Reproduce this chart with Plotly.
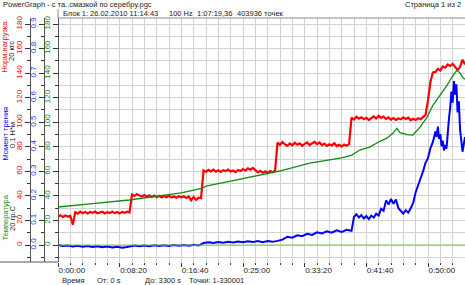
import plotly.graph_objects as go

# ---------------- data ----------------
red_t = list(range(0, 3301, 20))
red_v = [23.0, 24.2, 22.8, 24.0, 23.2, 23.8,
         16.5,
         26.8, 25.6, 27.2, 26.0, 27.0, 25.8, 26.9, 26.2, 27.3, 25.9, 26.6, 27.1, 25.7, 26.8, 26.1, 27.2, 26.0,
         26.9, 25.8, 27.0, 26.3, 27.1, 26.4,
         41.2, 40.0, 41.5, 40.3, 39.6, 40.8, 39.4, 40.5, 39.2, 40.4, 39.0, 40.1, 38.8, 39.9, 38.9, 40.2, 38.7,
         39.6, 38.5, 39.8, 38.9, 39.7, 38.4, 39.5, 36.5, 39.2, 36.8, 38.6, 38.2,
         60.8, 59.6, 61.2, 60.0, 61.5, 59.8, 60.9, 59.5, 61.0, 60.2, 61.4, 59.9, 60.7, 59.4, 61.1, 60.3, 61.8,
         60.6, 62.5, 61.4, 62.8, 61.0, 59.2, 60.4, 59.0, 60.1, 58.8, 60.2, 59.3, 60.5,
         83.5, 81.6, 83.8, 82.0, 80.9, 82.7, 81.2, 83.4, 81.8, 82.9, 80.8, 82.4, 83.6, 81.5, 82.8, 84.0, 82.2,
         83.5, 81.4, 82.6, 80.7, 82.0, 81.1, 82.8, 80.6, 81.7, 80.2, 81.9, 80.8, 82.1,
         103.8, 102.2, 104.5, 102.9, 104.1, 102.5, 103.6, 101.8, 103.3, 104.8, 103.0, 105.2, 103.5, 104.6,
         102.7, 103.9, 102.1, 103.4, 101.9, 103.1, 102.4, 104.0, 102.6, 103.7, 101.6, 102.8, 101.9, 103.2,
         102.5, 104.0,
         106.0, 118.0, 133.0, 140.5,
         141.0, 143.5, 142.2, 145.5, 144.5, 147.0, 145.8, 147.5, 144.5, 142.5, 145.0, 151.0, 147.0]

blue_t = [0, 40, 80, 120, 160, 200, 240, 280, 320, 360, 400, 440, 480, 520, 560, 590, 620, 660, 700, 740,
          780, 820, 860, 900, 940, 980, 1020, 1060, 1100, 1140, 1180, 1220, 1260, 1300, 1340, 1380, 1420,
          1460, 1500, 1540, 1580, 1620, 1660, 1700, 1740, 1780, 1820, 1860, 1900, 1940, 1980, 2020, 2060,
          2100, 2140, 2180, 2220, 2260, 2300, 2340, 2380, 2400, 2420, 2440, 2460, 2480, 2500, 2520, 2540,
          2560, 2580, 2600, 2620, 2640, 2660, 2680, 2700, 2720, 2740, 2760, 2780, 2800, 2820, 2840, 2860,
          2880, 2900, 2920, 2940, 2960, 2980, 3000, 3020, 3040, 3060, 3070, 3080, 3090, 3100, 3110, 3120,
          3130, 3140, 3150, 3160, 3170, 3180, 3190, 3200, 3210, 3220, 3230, 3240, 3250, 3260, 3270, 3280,
          3290, 3300]
blue_v = [0.000, -0.004, -0.002, -0.006, -0.003, -0.007, -0.004, -0.008, -0.005, -0.009, -0.006, -0.010,
          -0.007, -0.011, -0.008, -0.004, -0.002, -0.005, -0.002, -0.005, -0.001, -0.004, -0.001, -0.004,
          0.000, -0.003, 0.000, -0.003, 0.001, -0.002, 0.008, 0.011, 0.008, 0.012, 0.009, 0.013, 0.010,
          0.014, 0.011, 0.015, 0.012, 0.016, 0.012, 0.016, 0.013, 0.017, 0.022, 0.034, 0.030, 0.040, 0.036,
          0.046, 0.041, 0.052, 0.047, 0.056, 0.050, 0.060, 0.053, 0.062, 0.058, 0.115, 0.125, 0.112, 0.122,
          0.108, 0.118, 0.106, 0.120, 0.112, 0.128, 0.120, 0.148, 0.140, 0.182, 0.165, 0.188, 0.168, 0.185,
          0.150, 0.138, 0.128, 0.142, 0.132, 0.150, 0.172, 0.215, 0.240, 0.272, 0.300, 0.335, 0.355, 0.395,
          0.420, 0.462, 0.440, 0.482, 0.432, 0.452, 0.402, 0.425, 0.385, 0.408, 0.392, 0.470, 0.515, 0.560,
          0.625, 0.580, 0.668, 0.612, 0.655, 0.540, 0.585, 0.470, 0.420, 0.380, 0.410, 0.440]

green_t = [0, 120, 300, 577, 800, 1000, 1171, 1200, 1400, 1634, 1797, 2041, 2200, 2300, 2382, 2447, 2528,
           2610, 2667, 2715, 2748, 2772, 2829, 2878, 2935, 2992, 3041, 3098, 3154, 3195, 3236, 3260, 3285,
           3300]
green_v = [31.0, 32.0, 34.0, 36.7, 39.5, 42.5, 46.4, 48.0, 52.0, 57.0, 60.3, 66.8, 69.5, 71.0, 73.3, 77.4,
           79.8, 84.5, 87.0, 91.0, 95.0, 91.5, 90.0, 89.6, 96.0, 104.0, 114.0, 122.0, 130.0, 137.0, 142.6,
           140.0, 136.0, 135.0]

zero_t = [0, 3300]
zero_v = [0, 0]

x_tickvals = [0, 500, 1000, 1500, 2000, 2500, 3000]
x_ticktext = ["0:00:00", "0:08:20", "0:16:40", "0:25:00", "0:33:20", "0:41:40", "0:50:00"]
red_ticks = [0, 20, 40, 60, 80, 100, 120, 140, 160, 180]
blue_ticks = [0.0, 0.1, 0.2, 0.3, 0.4, 0.5, 0.6, 0.7, 0.8, 0.9]
blue_ticktext = ["0.0", "0.1", "0.2", "0.3", "0.4", "0.5", "0.6", "0.7", "0.8", "0.9"]
green_ticks = [0, 20, 40, 60, 80, 100, 120, 140, 160, 180]

assert len(red_t) == len(red_v)
assert len(blue_t) == len(blue_v)
assert len(green_t) == len(green_v)

# ---------------- layout helpers ----------------
W, H = 465, 285
MT, MB = 18, 23
def px(x):
    return x / W
def py(y):
    return (H - MB - y) / (H - MT - MB)

FONT = "Liberation Sans"
GRID = "#d2d2d2"
AX = "#555555"

fig = go.Figure()
fig.add_trace(go.Scatter(x=red_t, y=red_v, yaxis="y", mode="lines",
                         line=dict(color="#ff0000", width=2.2), showlegend=False))
fig.add_trace(go.Scatter(x=blue_t, y=blue_v, yaxis="y2", mode="lines",
                         line=dict(color="#0000ff", width=2), showlegend=False))
fig.add_trace(go.Scatter(x=zero_t, y=zero_v, yaxis="y3", mode="lines",
                         line=dict(color="#80c040", width=1), showlegend=False))
fig.add_trace(go.Scatter(x=green_t, y=green_v, yaxis="y3", mode="lines",
                         line=dict(color="#138a13", width=1.3), showlegend=False))

yr = [-13.8, 184.9]
common_y = dict(anchor="free", side="left", tickangle=-90, ticks="outside", ticklen=5,
                tickcolor="#333333", showline=True, linecolor=AX, linewidth=1, zeroline=False)

fig.update_layout(
    width=W, height=H,
    margin=dict(l=0, r=0, t=MT, b=MB, pad=0),
    paper_bgcolor="white", plot_bgcolor="white",
    font=dict(family=FONT, size=8, color="#222222"),
    xaxis=dict(domain=[px(58), 1], range=[0, 3300], tickmode="array", tickvals=x_tickvals,
               ticktext=x_ticktext, ticks="outside", ticklen=4, tickcolor="#333333",
               ticklabelposition="outside right", tickfont=dict(size=8, color="#222222"),
               showgrid=True, gridcolor=GRID, gridwidth=1, zeroline=False, showline=False,
               minor=dict(dtick=100, tick0=0, ticks="outside", ticklen=2, tickcolor="#333333",
                          showgrid=True, gridcolor=GRID, gridwidth=1)),
    yaxis=dict(range=yr, position=px(30), tickmode="array", tickvals=red_ticks,
               tickfont=dict(size=8, color="#ff0000"), showgrid=True, gridcolor=GRID,
               minor=dict(dtick=10, tick0=0, ticks="outside", ticklen=3, tickcolor="#333333",
                          showgrid=True, gridcolor=GRID), **common_y),
    yaxis2=dict(range=[yr[0] / 200, yr[1] / 200], overlaying="y", position=px(44), tickmode="array",
                tickvals=blue_ticks, ticktext=blue_ticktext, tickfont=dict(size=8, color="#3030ff"),
                showgrid=False,
                minor=dict(dtick=0.05, tick0=0, ticks="outside", ticklen=3, tickcolor="#333333",
                           showgrid=False), **common_y),
    yaxis3=dict(range=yr, overlaying="y", position=px(58), tickmode="array", tickvals=green_ticks,
                tickfont=dict(size=8, color="#138a13"), showgrid=False,
                minor=dict(dtick=10, tick0=0, ticks="outside", ticklen=3, tickcolor="#333333",
                           showgrid=False), **common_y),
)

shapes = [
    dict(type="line", xref="paper", yref="paper", x0=px(58), x1=1, y0=1, y1=1,
         line=dict(color="#8a8a8a", width=1)),
    dict(type="line", xref="paper", yref="paper", x0=px(58), x1=px(58), y0=py(9), y1=1,
         line=dict(color="#8a8a8a", width=1)),
    dict(type="line", xref="paper", yref="paper", x0=0, x1=px(58), y0=0, y1=0,
         line=dict(color=AX, width=1)),
]
fig.update_layout(shapes=shapes)

def txt(x, y, s, color="#222222", size=7.5, xanchor="left", angle=0):
    return dict(x=px(x), y=py(y), xref="paper", yref="paper", text=s, showarrow=False,
                xanchor=xanchor, yanchor="middle", textangle=angle,
                font=dict(family=FONT, size=size, color=color))

ann = [
    txt(1, 4.5, "PowerGraph - с та..смазкой по серебру.pgc"),
    txt(463, 4.5, "Страница 1 из 2", xanchor="right"),
    txt(61, 13, "Блок 1:"),
    txt(88, 13, "26.02.2010 11:14:43"),
    txt(167, 13, "100 Hz"),
    txt(195, 13, "1:07:19,36"),
    txt(235, 13, "403936 точек"),
    txt(4.5, 47, "Норм.нагрузка", color="#ff0000", size=7.5, xanchor="center", angle=-90),
    txt(12, 51, "20 кгс", color="#222222", size=7.5, xanchor="center", angle=-90),
    txt(4.5, 134, "Момент трения", color="#0000ff", size=7.5, xanchor="center", angle=-90),
    txt(12, 135, "0.1 Н*м", color="#222222", size=7.5, xanchor="center", angle=-90),
    txt(4.5, 218, "Температура", color="#138a13", size=7.5, xanchor="center", angle=-90),
    txt(12, 219, "20 гр.С", color="#222222", size=7.5, xanchor="center", angle=-90),
    txt(60, 280, "Время"),
    txt(95, 280, "От: 0 s"),
    txt(143, 280, "До: 3300 s"),
    txt(187, 280, "Точки: 1-330001"),
]
fig.update_layout(annotations=ann)

fig.write_html("out.html", config={"displayModeBar": False},
               post_script="document.body.style.margin='0px';document.body.style.overflow='hidden';")
